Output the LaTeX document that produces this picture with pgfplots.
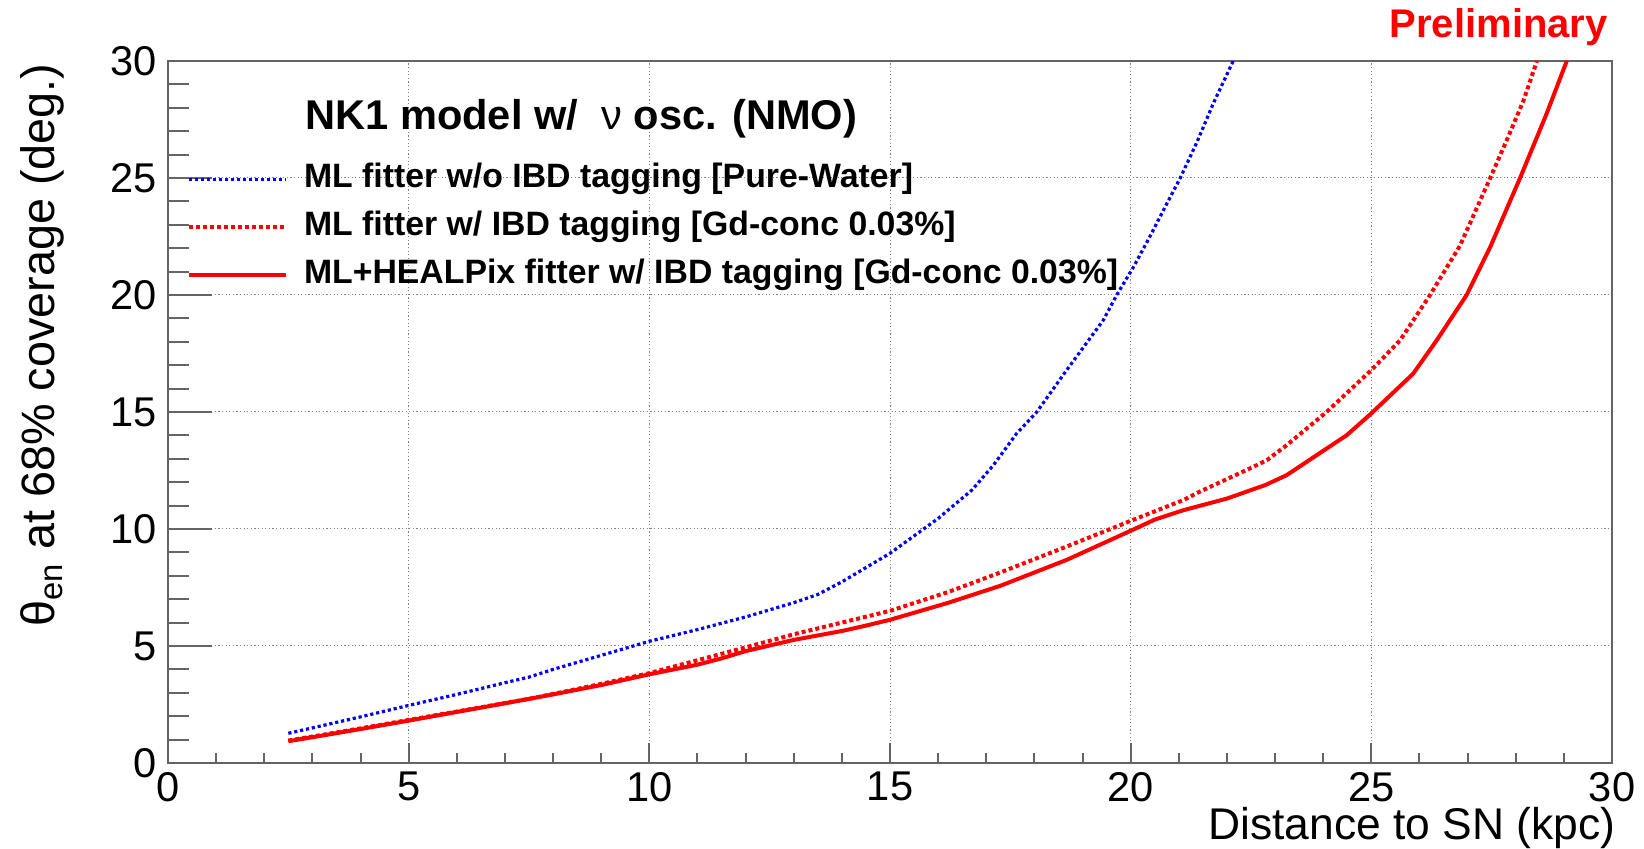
\documentclass[border=0pt]{standalone}
\usepackage{fontspec}
\setmainfont{Liberation Sans}
\usepackage{pgfplots}
\pgfplotsset{compat=1.18}
\definecolor{framegray}{RGB}{100,100,100}
\begin{document}
\begin{tikzpicture}
\useasboundingbox (0,0) rectangle (822pt,424.5pt);
\begin{axis}[
  at={(84pt,43pt)}, anchor=south west,
  scale only axis, width=722pt, height=351pt,
  xmin=0, xmax=30, ymin=0, ymax=30,
  xtick={0,5,...,30}, ytick={0,5,...,30},
  minor xtick={1,2,3,4,6,7,8,9,11,12,13,14,16,17,18,19,21,22,23,24,26,27,28,29},
  minor ytick={1,2,3,4,6,7,8,9,11,12,13,14,16,17,18,19,21,22,23,24,26,27,28,29},
  tick align=inside, tick pos=left,
  major tick length=22pt, minor tick length=10.5pt,
  xtick style={/pgfplots/major tick length=10pt,/pgfplots/minor tick length=5pt},
  every tick/.style={framegray, line width=1pt},
  axis line style={framegray, line width=1pt},
  grid=major,
  major grid style={gray, line width=0.5pt, dash pattern=on 0.6pt off 1.2pt},
  /pgf/number format/assume math mode=true,
  tick label style={font=\fontsize{20.8}{20.8}\selectfont},
  xticklabel style={inner sep=0pt, anchor=north, yshift=-4.4pt},
  yticklabel style={inner sep=0pt, anchor=east, xshift=-5.5pt},
  every axis x label/.style={at={(rel axis cs:1,0)}, anchor=base east, xshift=2pt, yshift=-38.3pt, inner sep=0pt, font=\fontsize{22.2}{22.2}\selectfont},
  xlabel={Distance to SN (kpc)},
  clip mode=individual,
  legend image code/.code={\draw[#1] (0pt,0pt) -- (48.5pt,0pt);},
  legend cell align=left,
  legend style={at={(rel axis cs:0,1)}, anchor=north west, xshift=9.5pt, yshift=-51pt,
    draw=none, fill=none, inner sep=0pt, outer sep=0pt, row sep=7.5pt,
    nodes={inner sep=0pt, text height=12.5pt, text depth=4pt},
    /tikz/every odd column/.append style={column sep=8pt},
    font=\fontsize{16.9}{16.9}\selectfont\bfseries},
]
\addplot[blue, line width=1.6pt, dash pattern=on 1.6pt off 1.4pt] coordinates {
(2.5,1.27) (3,1.5) (4,1.97) (5,2.46) (6,2.93) (7,3.43) (7.5,3.67) (8,4.0) (9,4.6) (10,5.2)
(11,5.7) (12,6.24) (13,6.85) (13.5,7.2) (14,7.74) (15,8.96) (16,10.45) (16.7,11.66)
(17.15,12.73) (17.63,14.08) (18.05,15.0) (18.67,16.79) (19.43,18.92) (19.71,20.0)
(20.06,21.2) (20.4,22.5) (20.75,23.9) (21.03,25.0) (21.37,26.5) (21.72,28.2) (22.13,30.0)
};
\addlegendentry{ML fitter w/o IBD tagging [Pure-Water]}

\addplot[red, line width=2pt, dash pattern=on 2pt off 1.5pt] coordinates {
(2.5,0.96) (3,1.13) (4,1.48) (5,1.84) (6,2.2) (7,2.56) (7.5,2.74) (8,2.95) (9,3.38) (10,3.84)
(11,4.39) (12,4.94) (13,5.5) (14,6.0) (15,6.5) (16.2,7.3) (17.29,8.14) (18.67,9.25)
(20.04,10.38) (21.1,11.24) (21.44,11.6) (22.48,12.59) (22.83,12.94) (23.24,13.58)
(24.07,15.0) (25.0,16.79) (25.6,18.07) (26.22,20.0) (26.84,22.1) (27.47,25.0)
(27.81,26.6) (28.16,28.3) (28.44,30.0)
};
\addlegendentry{ML fitter w/ IBD tagging [Gd-conc 0.03\%]}

\addplot[red, line width=2pt] coordinates {
(2.5,0.93) (3,1.1) (4,1.45) (5,1.81) (6,2.18) (7,2.55) (7.5,2.74) (8,2.93) (9,3.33) (10,3.79)
(11,4.2) (11.5,4.47) (12,4.78) (13,5.26) (14,5.64) (14.5,5.87) (15,6.12) (16.2,6.84)
(17.29,7.57) (18.67,8.68) (20.04,9.96) (20.5,10.4) (21.09,10.8) (22.0,11.3) (22.8,11.88)
(23.24,12.3) (24.49,14.01) (25.0,14.94) (25.87,16.64) (26.36,18.07) (26.98,20.0)
(27.47,22.05) (28.09,25.0) (28.64,27.74) (29.06,30.0)
};
\addlegendentry{ML+HEALPix fitter w/ IBD tagging [Gd-conc 0.03\%]}

\node[anchor=base west, font=\fontsize{20.8}{20.8}\selectfont\bfseries, inner sep=0pt]
  at ([xshift=68.5pt,yshift=-34.5pt]rel axis cs:0,1) {NK1 model w/~ {\mdseries ν} osc. (NMO)};
\node[anchor=base east, text=red, font=\fontsize{20}{20}\selectfont\bfseries, inner sep=0pt]
  at ([xshift=-2pt,yshift=11.5pt]rel axis cs:1,1) {Preliminary};
\node[anchor=base east, rotate=90, font=\fontsize{23.4}{23.4}\selectfont, inner sep=0pt]
  at ([xshift=-56.7pt,yshift=-1pt]rel axis cs:0,1) {θ\textsubscript{en} at 68\% coverage (deg.)};
\end{axis}
\end{tikzpicture}
\end{document}
